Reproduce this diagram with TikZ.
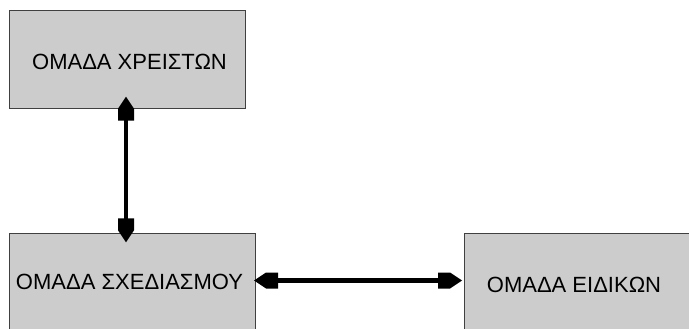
\documentclass[tikz,border=0pt]{standalone}
\usepackage{fontspec}
\setmainfont{Liberation Sans}
\definecolor{boxfill}{RGB}{204,204,204}
\definecolor{boxline}{RGB}{64,64,64}
\pgfdeclarearrow{
  name=House,
  setup code={
    \pgfarrowssettipend{0pt}
    \pgfarrowssetlineend{-20pt}
    \pgfarrowssetvisualbackend{-24pt}
    \pgfarrowssetbackend{-24pt}
    \pgfarrowshullpoint{0pt}{0pt}
    \pgfarrowshullpoint{-24pt}{8pt}
    \pgfarrowshullpoint{-24pt}{-8pt}
  },
  drawing code={
    \pgfpathmoveto{\pgfpoint{0pt}{0pt}}
    \pgfpathlineto{\pgfpoint{-12pt}{8pt}}
    \pgfpathlineto{\pgfpoint{-24pt}{8pt}}
    \pgfpathlineto{\pgfpoint{-24pt}{-8pt}}
    \pgfpathlineto{\pgfpoint{-12pt}{-8pt}}
    \pgfpathclose
    \pgfusepathqfill
  }
}
\begin{document}
\begin{tikzpicture}[x=1pt,y=-1pt,
  groupbox/.style={draw=boxline,fill=boxfill,line width=1pt,inner sep=0pt,outer sep=0pt,rectangle},
  grouptext/.style={font=\fontsize{22}{26}\selectfont,anchor=base,inner sep=0pt},
  link/.style={line width=4.3pt,{House}-{House}}]
\useasboundingbox (0,0) rectangle (689,329);
\begin{scope}
\clip (0,0) rectangle (689,329);
\node[groupbox,minimum width=236pt,minimum height=98.3pt] (users) at (127.5,59.85) {};
\node[groupbox,minimum width=245.5pt,minimum height=97.4pt] (design) at (132.25,282) {};
\node[groupbox,minimum width=240pt,minimum height=97.4pt] (experts) at (584.3,282) {};
\end{scope}
\node[grouptext] (userslabel) at (129.5,69.3) {ΟΜΑΔΑ ΧΡΕΙΣΤΩΝ};
\node[grouptext] (designlabel) at (129.5,289.3) {ΟΜΑΔΑ ΣΧΕΔΙΑΣΜΟΥ};
\node[grouptext] (expertslabel) at (574,292.7) {ΟΜΑΔΑ ΕΙΔΙΚΩΝ};
\draw[link,shorten <=-12.3pt,shorten >=-9pt] ([xshift=-1.5pt]users.south) -- ([xshift=-1.5pt]users.south |- design.north);
\draw[link,shorten <=-1pt,shorten >=2.3pt] ([yshift=1.5pt]design.east) -- ([yshift=1.5pt]experts.west);
\end{tikzpicture}
\end{document}
